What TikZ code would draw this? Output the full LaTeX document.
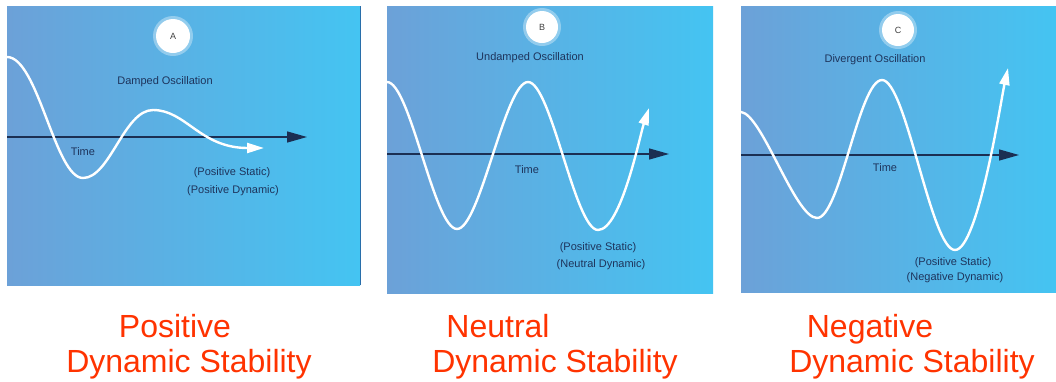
\documentclass[tikz,border=0pt]{standalone}
\usepackage{fontspec}
\setmainfont{Liberation Sans}
\usetikzlibrary{arrows.meta}
\definecolor{panelL}{RGB}{108,161,216}
\definecolor{panelR}{RGB}{68,196,242}
\definecolor{navy}{RGB}{30,52,92}
\definecolor{redlab}{RGB}{255,51,0}
\definecolor{edgeblue}{RGB}{40,110,170}
\tikzset{
  panel/.style={left color=panelL, right color=panelR},
  axisline/.style={draw=navy!90!black, line width=1.4pt, -{Triangle[length=20pt,width=11pt]}},
  wave/.style={draw=white, line width=2.4pt, line cap=round, line join=round, -{Triangle[length=17pt,width=10pt,fill=white]}},
  badge/.style={circle, fill=white, minimum size=34pt, inner sep=0pt, font=\fontsize{9}{9}\selectfont, text=black!75},
  small/.style={text=navy, font=\fontsize{11}{12}\selectfont, inner sep=0pt},
  biglab/.style={text=redlab, font=\fontsize{32}{34}\selectfont, anchor=base, inner sep=0pt}
}
\begin{document}
\begin{tikzpicture}[x=1pt,y=-1pt]
\useasboundingbox (0,0) rectangle (1056,381);
\fill[white] (0,0) rectangle (1056,381);

% ---------- panels ----------
\shade[panel] (7,6) rectangle (360,285);
\draw[edgeblue, line width=1pt] (360,6) -- (360,285);
\shade[panel] (387,6) rectangle (713,293);
\shade[panel] (741,6) rectangle (1056,292);

% ---------- Panel A ----------
\coordinate (axA0) at (7,137);
\coordinate (axA1) at (307,137);
\draw[axisline] (axA0) -- (axA1);
\coordinate (wA0) at (7,57);
\coordinate (wA1) at (83,178);
\coordinate (wA2) at (153,110);
\coordinate (wA3) at (264,148);
\draw[wave] (wA0) .. controls (38,57) and (55,178) .. (wA1)
  .. controls (110,178) and (124,110) .. (wA2)
  .. controls (186,110) and (200,148) .. (wA3);
\fill[white, opacity=0.35] (173,36) circle (20pt);
\node[badge] (bA) at (173,36) {A};
\node[small] (tA) at (165,82) {Damped Oscillation};
\node[small] (timeA) at (83,152) {Time};
\node[small] (sA1) at (232,173) {(Positive Static)};
\node[small] (sA2) at (233,191) {(Positive Dynamic)};

% ---------- Panel B ----------
\coordinate (axB0) at (387,154);
\coordinate (axB1) at (669,154);
\draw[axisline] (axB0) -- (axB1);
\coordinate (wB0) at (387,82);
\coordinate (wB1) at (457,229);
\coordinate (wB2) at (528,82);
\coordinate (wB3) at (598,230);
\coordinate (wB4) at (649,108);
\draw[wave] (wB0) .. controls (410,82) and (434,229) .. (wB1)
  .. controls (480,229) and (505,82) .. (wB2)
  .. controls (551,82) and (575,230) .. (wB3)
  .. controls (621,230) and (640,135) .. (wB4);
\fill[white, opacity=0.35] (542,27) circle (19pt);
\node[badge, minimum size=32pt] (bB) at (542,27) {B};
\node[small] (tB) at (530,58) {Undamped Oscillation};
\node[small] (timeB) at (527,170) {Time};
\node[small] (sB1) at (598,248) {(Positive Static)};
\node[small] (sB2) at (601,265) {(Neutral Dynamic)};

% ---------- Panel C ----------
\coordinate (axC0) at (741,155);
\coordinate (axC1) at (1019,155);
\draw[axisline] (axC0) -- (axC1);
\coordinate (wC0) at (741,112);
\coordinate (wC1) at (817,218);
\coordinate (wC2) at (882,80);
\coordinate (wC3) at (955,250);
\coordinate (wC4) at (1008,68);
\draw[wave] (wC0) .. controls (762,114) and (795,218) .. (wC1)
  .. controls (840,218) and (859,80) .. (wC2)
  .. controls (906,80) and (931,250) .. (wC3)
  .. controls (978,250) and (1001,100) .. (wC4);
\fill[white, opacity=0.35] (898,30) circle (19pt);
\node[badge, minimum size=32pt] (bC) at (898,30) {C};
\node[small] (tC) at (875,60) {Divergent Oscillation};
\node[small] (timeC) at (885,168) {Time};
\node[small] (sC1) at (953,263) {(Positive Static)};
\node[small] (sC2) at (955,278) {(Negative Dynamic)};

% ---------- captions ----------
\node[biglab] (cA1) at (175,337) {Positive};
\node[biglab] (cA2) at (189,372) {Dynamic Stability};
\node[biglab] (cB1) at (498,337) {Neutral};
\node[biglab] (cB2) at (555,372) {Dynamic Stability};
\node[biglab] (cC1) at (870,337) {Negative};
\node[biglab] (cC2) at (912,372) {Dynamic Stability};
\end{tikzpicture}
\end{document}
